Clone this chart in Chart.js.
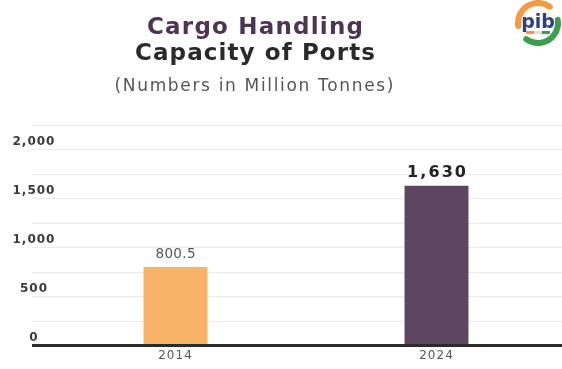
<!DOCTYPE html>
<html><head><meta charset="utf-8">
<style>
html,body{margin:0;padding:0;background:#fff;overflow:hidden;width:562px;height:369px}
canvas{display:block}
</style>
<script src="https://cdn.jsdelivr.net/npm/chart.js@4.4.1/dist/chart.umd.min.js"></script>
</head><body>
<canvas id="c" width="570" height="369"></canvas>
<script>
// ---- data ----
const categories = ['2014', '2024'];
const capacityValues = [800.5, 1630];
const valueLabels = ['800.5', '1,630'];
const yTickValues = [0, 500, 1000, 1500, 2000];
const yTickLabels = ['0', '500', '1,000', '1,500', '2,000'];
const titleLine1 = 'Cargo Handling';
const titleLine2 = 'Capacity of Ports';
const subtitleText = '(Numbers in Million Tonnes)';

// ---- styles ----
const barColors = ['#F8B466', '#5D4660'];
const FONT = 'DejaVu Sans';

function drawFitted(ctx, text, cx, y, font, color, targetWidth) {
  ctx.save();
  ctx.font = font;
  ctx.fillStyle = color;
  ctx.textBaseline = 'alphabetic';
  ctx.textAlign = 'left';
  ctx.letterSpacing = '0px';
  const w = ctx.measureText(text).width;
  const ls = targetWidth ? (targetWidth - w) / Math.max(1, text.length - 1) : 0;
  ctx.letterSpacing = ls + 'px';
  const tw = targetWidth || w;
  ctx.fillText(text, cx - tw / 2, y);
  ctx.restore();
}

const spacingPlugin = {
  id: 'spacing',
  beforeDraw(chart) { chart.ctx.letterSpacing = '1px'; },
  afterDraw(chart) { chart.ctx.letterSpacing = '0px'; }
};

const headerPlugin = {
  id: 'header',
  afterDraw(chart) {
    const ctx = chart.ctx;
    drawFitted(ctx, titleLine1, 255, 34, `bold 23px "${FONT}"`, '#4B3552', 216);
    drawFitted(ctx, titleLine2, 255, 60, `bold 23px "${FONT}"`, '#2A2A2A', 240);
    drawFitted(ctx, subtitleText, 254, 91, `17px "${FONT}"`, '#555555', 279);
    // PIB logo
    ctx.save();
    const lx = 538, ly = 23, r = 20;
    ctx.lineCap = 'round';
    ctx.lineWidth = 6;
    ctx.strokeStyle = '#F39A45';
    ctx.beginPath(); ctx.arc(lx, ly, r, Math.PI * 0.95, Math.PI * 1.7); ctx.stroke();
    ctx.strokeStyle = '#3E9E4F';
    ctx.beginPath(); ctx.arc(lx, ly, r, Math.PI * -0.05, Math.PI * 0.7); ctx.stroke();
    ctx.font = `bold 19px "${FONT}"`;
    ctx.fillStyle = '#2E3F86';
    ctx.textAlign = 'center';
    ctx.textBaseline = 'alphabetic';
    ctx.fillText('pib', lx, ly + 5);
    ctx.fillStyle = '#F39A45'; ctx.fillRect(lx - 12, ly + 8, 8, 3);
    ctx.fillStyle = '#dddddd'; ctx.fillRect(lx - 4, ly + 8, 8, 3);
    ctx.fillStyle = '#3E9E4F'; ctx.fillRect(lx + 4, ly + 8, 8, 3);
    ctx.restore();
  }
};

const valueLabelPlugin = {
  id: 'valueLabels',
  afterDatasetsDraw(chart) {
    const ctx = chart.ctx;
    const meta = chart.getDatasetMeta(0);
    meta.data.forEach((bar, i) => {
      const last = i === meta.data.length - 1;
      drawFitted(ctx, valueLabels[i], bar.x, bar.y - 9,
        last ? `bold 16px "${FONT}"` : `13.5px "${FONT}"`,
        last ? '#222222' : '#555555',
        last ? 59 : 40);
    });
  }
};

new Chart(document.getElementById('c'), {
  type: 'bar',
  data: {
    labels: categories,
    datasets: [{
      data: capacityValues,
      backgroundColor: barColors,
      borderWidth: 0,
      categoryPercentage: 1,
      barPercentage: 0.245
    }]
  },
  options: {
    responsive: false,
    animation: false,
    devicePixelRatio: 1,
    layout: { padding: { top: 125, left: 12, right: 3, bottom: 3 } },
    plugins: { legend: { display: false }, tooltip: { enabled: false } },
    scales: {
      x: {
        offset: true,
        grid: { display: false, drawTicks: false },
        border: { display: false },
        ticks: { padding: 3, color: '#555555', font: { family: FONT, size: 12 } }
      },
      y: {
        min: 0, max: 2250,
        border: { display: false },
        grid: {
          color: c => (c.tick && c.tick.value === 0) ? '#2B2B2B' : '#EAEAEA',
          lineWidth: c => (c.tick && c.tick.value === 0) ? 3 : 1,
          drawTicks: true,
          tickLength: 13
        },
        ticks: {
          stepSize: 250,
          autoSkip: false,
          mirror: true,
          crossAlign: 'center',
          padding: -30,
          color: '#3A3A3A',
          font: { family: FONT, weight: 'bold', size: 12, lineHeight: '15px' },
          callback: v => {
            const i = yTickValues.indexOf(v);
            return i >= 0 ? [yTickLabels[i], ''] : '';
          }
        },
        afterFit: s => { s.width = 33; }
      }
    }
  },
  plugins: [spacingPlugin, headerPlugin, valueLabelPlugin]
});
</script>
</body></html>
